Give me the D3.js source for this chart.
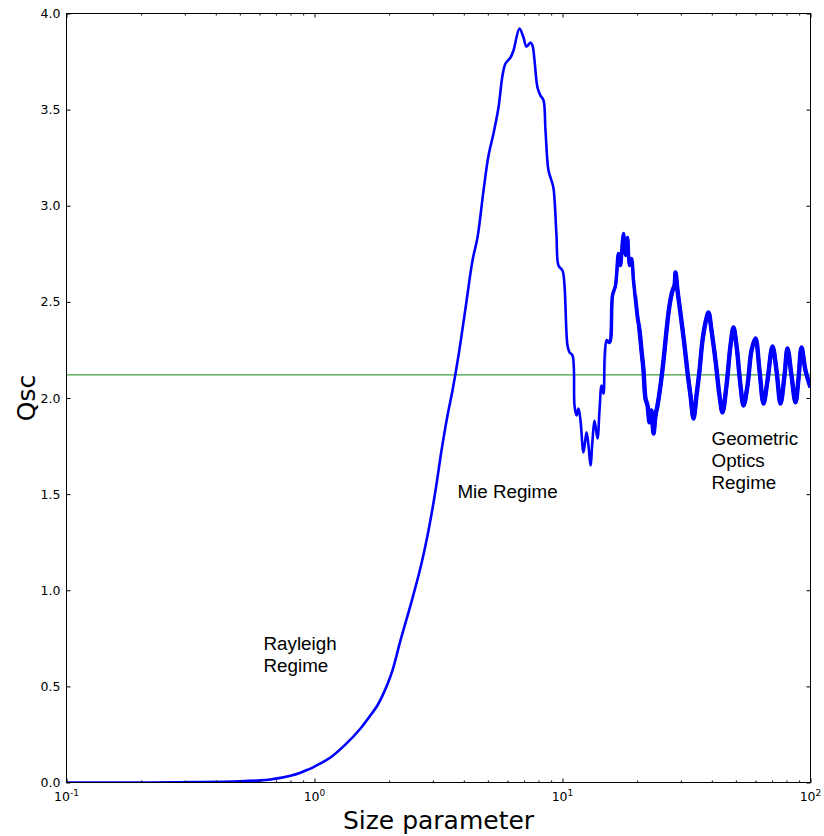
<!DOCTYPE html>
<html>
<head>
<meta charset="utf-8">
<script src="https://cdn.jsdelivr.net/npm/d3@7/dist/d3.min.js"></script>
<style>
  html, body { margin: 0; padding: 0; background: #ffffff; }
  svg { display: block; }
</style>
</head>
<body>
<svg id="chart" width="824" height="836"></svg>
<script>
// Scattering efficiency Qsc against size parameter (log axis)
const sizeParam = [
  0.1, 0.218, 0.347, 0.503, 0.606, 0.665, 0.730, 0.800, 0.878, 0.937, 1.0, 1.160, 1.334,
  1.533, 1.714, 1.795, 1.880, 1.970, 2.063, 2.222, 2.438, 2.676, 2.882, 3.076, 3.252,
  3.438, 3.601, 3.808, 4.063, 4.336, 4.542, 4.803, 5.031, 5.270, 5.520,
  5.729, 5.891, 6.171, 6.345, 6.709, 6.962, 7.159, 7.430, 7.569, 7.711,
  7.929, 8.153, 8.383, 8.540, 8.781, 9.029, 9.199, 9.458, 9.636, 10.0,
  10.187, 10.475, 10.672, 10.973, 11.179, 11.388, 11.601, 11.819, 12.153, 12.496,
  12.730, 12.969, 13.212, 13.460, 13.840, 14.099, 14.364, 14.633, 15.046, 15.471,
  15.908, 16.357, 16.819, 17.135, 17.456, 17.619, 17.949, 18.286, 18.629, 18.978,
  19.334, 19.696, 20.065, 20.441, 20.824, 21.215, 21.612, 22.017, 22.430, 22.851,
  23.279, 23.715, 24.159, 24.841, 25.542, 26.264, 27.005, 27.768, 28.289, 28.553,
  29.088, 29.910, 31.041, 31.918, 32.819, 33.746, 34.700, 35.680, 36.687, 37.724,
  38.789, 39.885, 41.394, 42.960, 44.173, 45.845, 47.580, 48.924, 50.308, 52.211,
  53.686, 55.717, 57.826, 60.013, 62.283, 64.640, 67.086, 70.274, 72.933, 75.692,
  78.556, 80.775, 83.830, 87.001, 89.459, 91.986, 95.464, 100.0
];
const qsc = [
  0, 0.0003, 0.002, 0.006, 0.011, 0.016, 0.024, 0.035, 0.051, 0.066, 0.083, 0.130, 0.198,
  0.281, 0.364, 0.402, 0.452, 0.512, 0.583, 0.739, 0.921, 1.118, 1.311, 1.519, 1.727,
  1.909, 2.039, 2.221, 2.466, 2.715, 2.835, 3.079, 3.261, 3.376, 3.511,
  3.678, 3.740, 3.771, 3.808, 3.922, 3.875, 3.828, 3.849, 3.834, 3.756,
  3.615, 3.573, 3.548, 3.391, 3.183, 3.131, 3.090, 2.845, 2.689, 2.663,
  2.585, 2.273, 2.237, 2.221, 1.961, 1.909, 1.945, 1.883, 1.717, 1.821,
  1.753, 1.649, 1.779, 1.883, 1.789, 1.935, 2.065, 2.023, 2.299, 2.289,
  2.533, 2.585, 2.752, 2.689, 2.819, 2.856, 2.741, 2.835, 2.689, 2.726,
  2.611, 2.507, 2.414, 2.351, 2.247, 2.143, 1.997, 1.961, 1.873, 1.935,
  1.815, 1.909, 1.961, 2.065, 2.195, 2.351, 2.481, 2.559, 2.585, 2.653,
  2.559, 2.440, 2.273, 2.133, 2.013, 1.893, 2.013, 2.143, 2.299, 2.393,
  2.445, 2.351, 2.195, 2.013, 1.925, 2.065, 2.273, 2.367, 2.273, 2.065,
  1.961, 2.065, 2.247, 2.310, 2.143, 1.971, 2.091, 2.268, 2.143, 1.971,
  2.117, 2.258, 2.117, 1.977, 2.101, 2.263, 2.143, 2.055
];
const meanQsc = 2.12;

// size parameters beyond which fine resonance ripple widens the trace
const rippleOnsets = [15, 20];

const yTicks = [0.0, 0.5, 1.0, 1.5, 2.0, 2.5, 3.0, 3.5, 4.0];
const xDecades = [0.1, 1, 10, 100];
const xDecadeExponents = ["-1", "0", "1", "2"];
const xMinorMultipliers = [2, 3, 4, 5, 6, 7, 8, 9];

const regimeNotes = [
  { lines: ["Rayleigh", "Regime"], x: 0.623, q: 0.687 },
  { lines: ["Mie Regime"], x: 3.77, q: 1.482 },
  { lines: ["Geometric", "Optics", "Regime"], x: 39.9, q: 1.758 }
];

const xLabel = "Size parameter";
const yLabel = "Qsc";

// ---- layout ----
const W = 824, H = 836;
const margin = { left: 66.5, top: 13.5, right: 824 - 810.5, bottom: 836 - 782.5 };
const innerW = W - margin.left - margin.right;
const innerH = H - margin.top - margin.bottom;

const svg = d3.select("#chart");
const g = svg.append("g").attr("transform", `translate(${margin.left},${margin.top})`);

const x = d3.scaleLog().domain([0.1, 100]).range([0, innerW]);
const y = d3.scaleLinear().domain([0, 4]).range([innerH, 0]);

const tickFont = "'DejaVu Sans', sans-serif";
const noteFont = "'Liberation Sans', Arial, sans-serif";

const defs = svg.append("defs");
defs.append("clipPath").attr("id", "plotClip")
  .append("rect").attr("x", 0).attr("y", 0).attr("width", innerW).attr("height", innerH);
rippleOnsets.forEach((s, i) => {
  defs.append("clipPath").attr("id", "ripple" + i)
    .append("rect").attr("x", x(s)).attr("y", 0)
    .attr("width", innerW - x(s)).attr("height", innerH);
});

const plot = g.append("g").attr("clip-path", "url(#plotClip)");

// horizontal reference line
plot.append("line")
  .attr("x1", 0).attr("x2", innerW)
  .attr("y1", y(meanQsc)).attr("y2", y(meanQsc))
  .attr("stroke", "#3f9f3f").attr("stroke-width", 1.2);

// efficiency curve
const points = sizeParam.map((s, i) => [s, qsc[i]]);
const line = d3.line()
  .x(d => x(d[0]))
  .y(d => y(d[1]))
  .curve(d3.curveCatmullRom.alpha(0.5));

plot.append("path")
  .datum(points)
  .attr("d", line)
  .attr("fill", "none")
  .attr("stroke", "#0000ff")
  .attr("stroke-width", 2.6)
  .attr("stroke-linejoin", "round");

// slightly wider trace where the fine ripple blurs the curve into a band
[3.5, 4.4].forEach((w, i) => {
  plot.append("g").attr("clip-path", `url(#ripple${i})`)
    .append("path")
    .datum(points)
    .attr("d", line)
    .attr("fill", "none")
    .attr("stroke", "#0000ff")
    .attr("stroke-width", w)
    .attr("stroke-linejoin", "round");
});

// ---- axes (inward ticks on all four sides) ----
const minorVals = [];
xDecades.slice(0, -1).forEach(d => xMinorMultipliers.forEach(m => minorVals.push(d * m)));

function styleAxis(sel) {
  sel.select(".domain").remove();
  sel.selectAll(".tick line").attr("stroke", "#000").attr("stroke-width", 1);
}

g.append("g").attr("transform", `translate(0,${innerH})`)
  .call(d3.axisBottom(x).tickValues(xDecades).tickSize(-4).tickFormat(""))
  .call(styleAxis);
g.append("g").attr("transform", `translate(0,${innerH})`)
  .call(d3.axisBottom(x).tickValues(minorVals).tickSize(-2).tickFormat(""))
  .call(styleAxis);
g.append("g")
  .call(d3.axisTop(x).tickValues(xDecades).tickSize(-4).tickFormat(""))
  .call(styleAxis);
g.append("g")
  .call(d3.axisTop(x).tickValues(minorVals).tickSize(-2).tickFormat(""))
  .call(styleAxis);

const yAxis = g.append("g")
  .call(d3.axisLeft(y).tickValues(yTicks).tickSize(-4).tickPadding(6).tickFormat(d3.format(".1f")))
  .call(styleAxis);
yAxis.selectAll("text")
  .attr("font-family", tickFont).attr("font-size", "12.5px").attr("fill", "#000");
g.append("g").attr("transform", `translate(${innerW},0)`)
  .call(d3.axisRight(y).tickValues(yTicks).tickSize(-4).tickFormat(""))
  .call(styleAxis);

// x decade labels: 10 with a superscript exponent
const xLabels = g.append("g").attr("transform", `translate(0,${innerH})`);
xDecades.forEach((d, i) => {
  const t = xLabels.append("text")
    .attr("x", x(d)).attr("y", 18.5)
    .attr("text-anchor", "middle")
    .attr("font-family", tickFont).attr("font-size", "12.5px").attr("fill", "#000");
  t.append("tspan").text("10");
  t.append("tspan").attr("dy", -5.5).attr("font-size", "9px").text(xDecadeExponents[i]);
});

// frame
g.append("rect")
  .attr("x", 0).attr("y", 0).attr("width", innerW).attr("height", innerH)
  .attr("fill", "none").attr("stroke", "#000").attr("stroke-width", 1);

// axis titles
svg.append("text")
  .attr("x", margin.left + innerW / 2).attr("y", 829)
  .attr("text-anchor", "middle")
  .attr("font-family", tickFont).attr("font-size", "25px").attr("fill", "#000")
  .text(xLabel);

svg.append("text")
  .attr("transform", `translate(35,${margin.top + innerH / 2}) rotate(-90)`)
  .attr("text-anchor", "middle")
  .attr("font-family", tickFont).attr("font-size", "25px").attr("fill", "#000")
  .text(yLabel);

// regime annotations
regimeNotes.forEach(n => {
  const t = g.append("text")
    .attr("x", x(n.x)).attr("y", y(n.q))
    .attr("font-family", noteFont).attr("font-size", "18.8px").attr("fill", "#000");
  n.lines.forEach((s, i) => {
    t.append("tspan").attr("x", x(n.x)).attr("dy", i === 0 ? 0 : 22).text(s);
  });
});
</script>
</body>
</html>
